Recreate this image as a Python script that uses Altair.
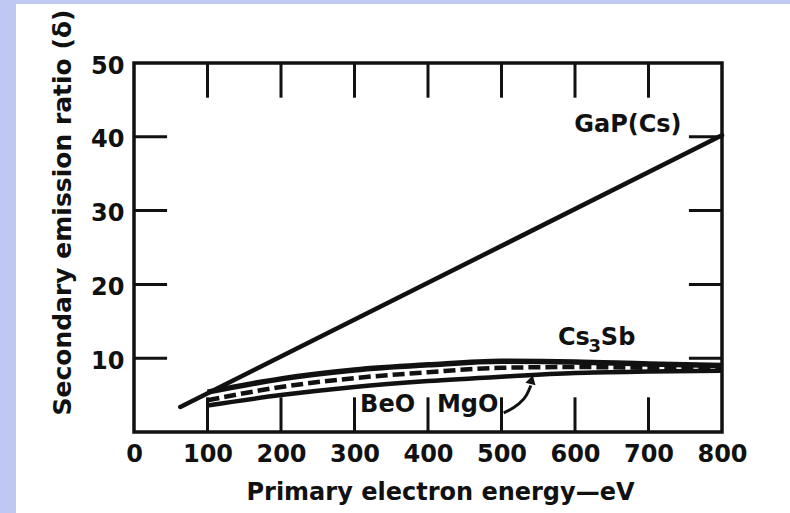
import altair as alt
import pandas as pd

# ---- data ----
energy = [100, 200, 300, 400, 500, 600, 700, 800]
cs3sb = [5.4, 7.2, 8.4, 9.1, 9.6, 9.5, 9.2, 9.0]
dashed = [4.3, 6.1, 7.3, 8.1, 8.7, 8.8, 8.7, 8.6]
beo = [3.6, 5.0, 6.1, 6.9, 7.5, 8.0, 8.2, 8.3]
gap_x = [63, 800]
gap_y = [3.4, 40.2]

x_ticks = [0, 100, 200, 300, 400, 500, 600, 700, 800]
y_ticks = [10, 20, 30, 40, 50]
inner_x_ticks = [100, 200, 300, 400, 500, 600, 700]
inner_y_ticks = [10, 20, 30, 40]

labels_text = ["GaP(Cs)", "BeO", "MgO"]
labels_x = [672, 345, 454]
labels_y = [41.6, 3.7, 3.7]

cs_label_x = [627]
cs_label_y = [12.7]

arrow_x = [503, 522, 534, 540]
arrow_y = [2.6, 3.7, 5.0, 6.3]
arrow_head_x = [541]
arrow_head_y = [7.1]

FONT = "DejaVu Sans"
INK = "#111111"
LAV = "#BFC8F0"

xs = alt.Scale(domain=[0, 800], nice=False, zero=False)
ys = alt.Scale(domain=[0, 50], nice=False, zero=False)

ax_x = alt.Axis(values=x_ticks, title="Primary electron energy\u2014eV", domain=False, ticks=False,
                grid=False, labelFont=FONT, labelFontSize=24, labelFontWeight="bold", labelColor=INK,
                labelPadding=10, labelFlush=False, labelOverlap=False,
                titleFont=FONT, titleFontSize=24, titleFontWeight="bold", titleColor=INK,
                titleX=306, titleY=60, titleAnchor="middle", titleAlign="center", titleBaseline="middle")
ax_y = alt.Axis(values=y_ticks, title="Secondary emission ratio (\u03b4)", domain=False, ticks=False,
                grid=False, labelFont=FONT, labelFontSize=24, labelFontWeight="bold", labelColor=INK,
                labelPadding=10, labelOffset=3, labelFlush=False, labelOverlap=False,
                titleFont=FONT, titleFontSize=25, titleFontWeight="bold",
                titleColor=INK, titleX=-72, titleY=149, titleAngle=270, titleAlign="center",
                titleBaseline="middle")


def X(f):
    return alt.X(f, type="quantitative", scale=xs, axis=ax_x)


def Y(f):
    return alt.Y(f, type="quantitative", scale=ys, axis=ax_y)


gap_df = pd.DataFrame({"e": gap_x, "d": gap_y})
gap = alt.Chart(gap_df).mark_line(color=INK, strokeWidth=4.5, strokeCap="round").encode(x=X("e"), y=Y("d"))

cs_df = pd.DataFrame({"e": energy, "d": cs3sb})
cs = alt.Chart(cs_df).mark_line(color=INK, strokeWidth=5.5, interpolate="monotone").encode(x=X("e"), y=Y("d"))

da_df = pd.DataFrame({"e": energy, "d": dashed})
da = alt.Chart(da_df).mark_line(color=INK, strokeWidth=4.5, strokeDash=[12, 5],
                                interpolate="monotone").encode(x=X("e"), y=Y("d"))

be_df = pd.DataFrame({"e": energy, "d": beo})
be = alt.Chart(be_df).mark_line(color=INK, strokeWidth=4.5, interpolate="monotone").encode(x=X("e"), y=Y("d"))

# inward tick marks on all four sides
tick_rows = []
for v in inner_y_ticks:
    tick_rows.append({"x1": 0, "x2": 45, "y1": v, "y2": v})
    tick_rows.append({"x1": 755, "x2": 800, "y1": v, "y2": v})
for v in inner_x_ticks:
    tick_rows.append({"x1": v, "x2": v, "y1": 0, "y2": 4.7})
    tick_rows.append({"x1": v, "x2": v, "y1": 45.3, "y2": 50})
ticks_df = pd.DataFrame(tick_rows)
ticks = alt.Chart(ticks_df).mark_rule(color=INK, strokeWidth=3).encode(
    x=X("x1"), x2="x2", y=Y("y1"), y2="y2")

lab_df = pd.DataFrame({"t": labels_text, "e": labels_x, "d": labels_y})
labels = alt.Chart(lab_df).mark_text(font=FONT, fontSize=24, fontWeight="bold", color=INK,
                                     align="center", baseline="middle").encode(
    x=X("e"), y=Y("d"), text="t")

# Cs3Sb label with a real lowered subscript
cs_lab_df = pd.DataFrame({"e": cs_label_x, "d": cs_label_y, "a": ["Cs"], "b": ["3"], "c": ["Sb"]})
cs_a = alt.Chart(cs_lab_df).mark_text(font=FONT, fontSize=24, fontWeight="bold", color=INK,
                                      align="right", baseline="middle", dx=-5).encode(
    x=X("e"), y=Y("d"), text="a")
cs_b = alt.Chart(cs_lab_df).mark_text(font=FONT, fontSize=18, fontWeight="bold", color=INK,
                                      align="center", baseline="middle", dy=9).encode(
    x=X("e"), y=Y("d"), text="b")
cs_c = alt.Chart(cs_lab_df).mark_text(font=FONT, fontSize=24, fontWeight="bold", color=INK,
                                      align="left", baseline="middle", dx=6).encode(
    x=X("e"), y=Y("d"), text="c")

arr_df = pd.DataFrame({"e": arrow_x, "d": arrow_y})
arrow = alt.Chart(arr_df).mark_line(color=INK, strokeWidth=3, interpolate="monotone").encode(
    x=X("e"), y=Y("d"))
head_df = pd.DataFrame({"e": arrow_head_x, "d": arrow_head_y})
head = alt.Chart(head_df).mark_point(shape="triangle-up", filled=True, color=INK, size=110,
                                     angle=15, opacity=1).encode(x=X("e"), y=Y("d"))

# lavender frame strips of the scanned page (decoration)
one = pd.DataFrame({"k": [0]})
strip_left = alt.Chart(one).mark_rect(color=LAV).encode(
    x=alt.value(-134), x2=alt.value(-118), y=alt.value(-63), y2=alt.value(450))
strip_top = alt.Chart(one).mark_rect(color=LAV).encode(
    x=alt.value(-134), x2=alt.value(656), y=alt.value(-63), y2=alt.value(-59))

chart = alt.layer(strip_left, strip_top, gap, be, da, cs, ticks, arrow, head, labels,
                  cs_a, cs_b, cs_c).properties(
    width=588, height=369,
    autosize=alt.AutoSizeParams(type="none"),
    padding={"left": 134, "top": 63, "right": 68, "bottom": 81},
    background="white",
).configure_view(stroke=INK, strokeWidth=3.5)

chart.save("out.html", embed_options={"renderer": "svg", "actions": False})
